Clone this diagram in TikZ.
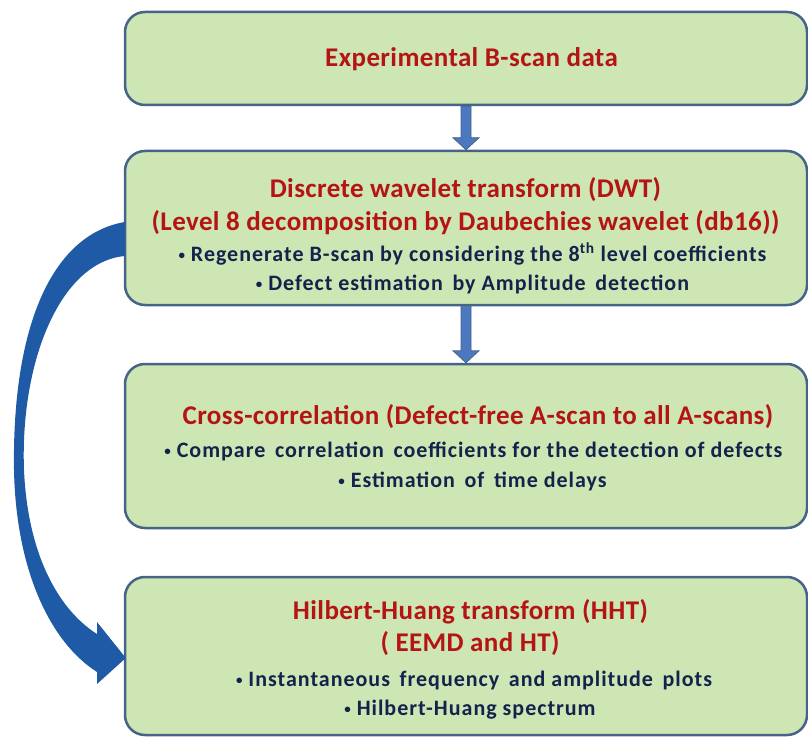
\documentclass[tikz,border=0pt]{standalone}
\usepackage{fontspec}
\setmainfont{Carlito}
\newfontfamily\bodyfont[LetterSpace=4.5]{Carlito}
\newfontfamily\ttlfont[LetterSpace=1.5]{Carlito}
\usetikzlibrary{calc}
\definecolor{boxfill}{RGB}{205,230,180}
\definecolor{boxedge}{RGB}{70,100,135}
\definecolor{titlered}{RGB}{180,20,20}
\definecolor{bodyblue}{RGB}{20,35,75}
\definecolor{arrowblue}{RGB}{30,90,165}
\definecolor{sarrow}{RGB}{75,120,190}
\newcommand{\bul}{{\fontsize{13}{13}\selectfont\raisebox{1.5pt}{•}}\ }
\tikzset{
  box/.style={draw=boxedge, fill=boxfill, line width=2.5pt, rounded corners=20pt,
    minimum width=682pt, inner sep=0pt},
  ttl/.style={text=titlered, font=\ttlfont\fontsize{27}{30}\selectfont\bfseries, inner sep=0pt, anchor=base},
  bdy/.style={text=bodyblue, font=\bodyfont\fontsize{22}{25}\selectfont\bfseries, inner sep=0pt, anchor=base},
  blockarrow/.style={fill=sarrow, draw=boxedge, line width=0.8pt},
  curvearrow/.style={fill=arrowblue, draw=none}
}
\begin{document}
\begin{tikzpicture}[x=1pt,y=-1pt]
\useasboundingbox (0,0) rectangle (808,738);
\fill[white] (0,0) rectangle (808,738);
% boxes
\node[box, minimum height=93pt]  (b1) at (466,58.5) {};
\node[box, minimum height=154pt] (b2) at (466,228) {};
\node[box, minimum height=164pt] (b3) at (466,446) {};
\node[box, minimum height=158pt] (b4) at (466,656) {};
% texts
\node[ttl] (t1) at (471.5,67) {Experimental B-scan data};
\node[ttl] (t2a) at (465.5,197) {Discrete wavelet transform (DWT)};
\node[ttl] (t2b) at (465.5,230) {(Level 8 decomposition by Daubechies wavelet (db16))};
\node[bdy] (t2c) at (472.5,261) {\bul Regenerate B-scan by considering the 8\textsuperscript{th} level coefficients};
\node[bdy] (t2d) at (472.5,290) {\bul Defect estimation\, by Amplitude\, detection};
\node[ttl] (t3a) at (478,424) {Cross-correlation (Defect-free A-scan to all A-scans)};
\node[bdy] (t3b) at (473.5,457) {\bul Compare\, correlation\, coefficients for the detection of defects};
\node[bdy] (t3c) at (472.5,487) {\bul Estimation\, of\, time delays};
\node[ttl] (t4a) at (470.5,619) {Hilbert-Huang transform (HHT)};
\node[ttl] (t4b) at (470,651) {( EEMD and HT)};
\node[bdy] (t4c) at (474,686) {\bul Instantaneous\, frequency\, and amplitude\, plots};
\node[bdy] (t4d) at (470,715) {\bul Hilbert-Huang spectrum};
% straight block arrows
\foreach \a/\b in {b1/b2, b2/b3}{
  \draw[blockarrow] ($(\a.south)+(-5,0)$) -- ($(\b.north)+(-5,-12)$) -- ($(\b.north)+(-13,-12)$)
    -- (\b.north) -- ($(\b.north)+(13,-12)$) -- ($(\b.north)+(5,-12)$) -- ($(\a.south)+(5,0)$) -- cycle;
}
% curved arrow from b2 to b4
\fill[curvearrow] ($(b2.west)+(1,-6)$) .. controls (50,235) and (12,330) .. (14,470)
  .. controls (16,570) and (50,642) .. (97,672) -- (97,684) -- ($(b4.west)+(2,2)$) -- (97,622) -- (97,634)
  .. controls (62,612) and (28,560) .. (24,470)
  .. controls (20,362) and (60,262) .. ($(b2.west)+(1,28)$) -- cycle;
\end{tikzpicture}
\end{document}
